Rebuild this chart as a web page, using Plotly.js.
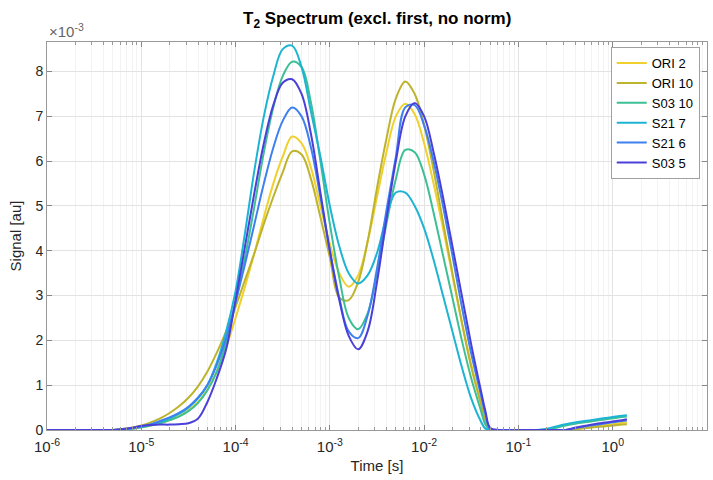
<!DOCTYPE html>
<html>
<head>
<meta charset="utf-8">
<script src="https://cdn.plot.ly/plotly-3.0.1.min.js"></script>
<style>html,body{margin:0;padding:0;background:#fff;}#chart{width:713px;height:480px;}</style>
</head>
<body>
<div id="chart"></div>
<script>
// log10 of time [s]
const log10T = [-6,-5.5,-5.3,-5.2,-5.1,-5.0,-4.9,-4.8,-4.7,-4.6,-4.5,-4.4,-4.3,-4.2,-4.1,-4.0,-3.9,-3.8,-3.7,-3.6,-3.5,-3.4,-3.3,-3.2,-3.1,-3.0,-2.9,-2.8,-2.7,-2.6,-2.5,-2.4,-2.3,-2.2,-2.1,-2.0,-1.9,-1.8,-1.7,-1.6,-1.5,-1.4,-1.35,-1.3,-1.2,-1.0,-0.8,-0.7,-0.6,-0.5,-0.4,-0.3,-0.2,-0.1,0.0,0.1,0.15];

// signal values in units of 1e-3
const ori2  = [0,0,0,0.01,0.03,0.06,0.1,0.15,0.22,0.31,0.44,0.62,0.9,1.3,1.85,2.5,3.2,3.95,4.75,5.5,6.1,6.55,6.4,5.85,5.0,4.15,3.5,3.2,3.45,4.2,5.2,6.2,7.0,7.28,7.05,6.4,5.5,4.5,3.45,2.4,1.45,0.62,0.22,0,0,0,0,0,0,0,0.02,0.05,0.08,0.11,0.13,0.16,0.17];
const ori10 = [0,0,0,0.02,0.05,0.1,0.17,0.26,0.38,0.53,0.72,0.97,1.3,1.72,2.2,2.75,3.35,3.95,4.6,5.2,5.75,6.22,6.15,5.6,4.75,3.85,2.95,2.9,3.3,4.2,5.4,6.5,7.4,7.78,7.5,6.8,5.8,4.65,3.5,2.4,1.4,0.6,0.2,0,0,0,0,0,0,0,0.02,0.04,0.06,0.08,0.1,0.12,0.13];
const s0310 = [0,0,0,0.01,0.03,0.06,0.1,0.15,0.22,0.3,0.42,0.6,0.88,1.3,1.95,2.85,3.85,5.0,6.2,7.2,7.9,8.22,8.1,7.3,6.0,4.6,3.4,2.5,2.25,2.6,3.5,4.6,5.6,6.25,6.2,5.7,4.85,3.9,2.95,2.0,1.15,0.45,0.12,0,0,0,0,0,0.05,0.1,0.14,0.17,0.2,0.23,0.26,0.29,0.30];
const s217  = [0,0,0,0.01,0.03,0.07,0.12,0.18,0.26,0.36,0.5,0.7,1.0,1.5,2.2,3.1,4.4,5.8,7.0,7.9,8.5,8.58,8.1,7.1,6.1,5.0,4.1,3.5,3.27,3.45,3.95,4.75,5.3,5.3,5.0,4.5,3.8,3.0,2.2,1.4,0.7,0.2,0.03,0,0,0,0,0.03,0.08,0.13,0.17,0.2,0.23,0.26,0.29,0.32,0.33];
const s216  = [0,0,0,0.01,0.04,0.08,0.13,0.2,0.28,0.38,0.52,0.72,1.0,1.45,2.05,2.85,3.7,4.6,5.5,6.3,6.9,7.2,7.0,6.3,5.2,4.0,2.95,2.2,2.05,2.55,3.6,4.9,6.1,7.2,7.25,6.8,6.0,5.0,3.9,2.75,1.7,0.8,0.35,0.02,0,0,0,0,0,0,0.04,0.08,0.11,0.14,0.17,0.2,0.21];
const s035  = [0,0,0,0.02,0.05,0.09,0.11,0.12,0.12,0.13,0.15,0.25,0.62,1.15,1.8,2.9,4.1,5.3,6.4,7.25,7.75,7.83,7.5,6.6,5.3,4.0,2.9,2.1,1.8,2.2,3.3,4.7,6.0,7.0,7.3,7.0,6.2,5.2,4.1,3.0,1.9,0.9,0.42,0.05,0,0,0,0,0,0,0.05,0.09,0.13,0.16,0.19,0.22,0.24];

const seriesNames = ['ORI 2','ORI 10','S03 10','S21 7','S21 6','S03 5'];
const seriesData = [ori2, ori10, s0310, s217, s216, s035];
const seriesColors = ['#EFD02C','#BDB32D','#3DBF95','#1DB4D4','#3E80EE','#4A3FD8'];
const xTickVals = [1e-6,1e-5,1e-4,1e-3,1e-2,1e-1,1,10];
const xTickText = ['10<sup>-6</sup>','10<sup>-5</sup>','10<sup>-4</sup>','10<sup>-3</sup>','10<sup>-2</sup>','10<sup>-1</sup>','10<sup>0</sup>','10<sup>1</sup>'];
const yTickVals = [0,1,2,3,4,5,6,7,8];

const tSec = log10T.map(v => Math.pow(10, v));
const traces = seriesNames.map((n, i) => ({
  x: tSec, y: seriesData[i], name: n, type: 'scatter', mode: 'lines',
  line: {color: seriesColors[i], width: 2, shape: 'spline', smoothing: 1}
}));

const fontFam = '"Liberation Sans", Arial, Helvetica, sans-serif';
const layout = {
  width: 713, height: 480,
  margin: {l: 47, r: 6, t: 42, b: 50},
  paper_bgcolor: '#ffffff', plot_bgcolor: '#ffffff',
  font: {family: fontFam, size: 13, color: '#262626'},
  title: {text: '<b>T<sub>2</sub> Spectrum (excl. first, no norm)</b>', x: 0.529, xref: 'container', y: 0.962, yref: 'container', xanchor: 'center', yanchor: 'middle', font: {family: fontFam, size: 17, color: '#000'}},
  xaxis: {
    type: 'log', range: [-6, 1], tickvals: xTickVals, ticktext: xTickText,
    showgrid: true, gridcolor: '#e3e3e3', gridwidth: 1,
    ticks: 'inside', ticklen: 5, tickcolor: '#888', ticklabelstandoff: 3,
    showline: true, linecolor: '#999', linewidth: 1, mirror: 'ticks',
    zeroline: false,
    minor: {dtick: 'D1', ticks: 'inside', ticklen: 3, tickcolor: '#999', showgrid: true, gridcolor: '#f3f3f3', gridwidth: 1},
    title: {text: 'Time [s]', standoff: 6, font: {size: 15, color: '#262626'}},
    tickfont: {size: 15, color: '#262626'}
  },
  yaxis: {
    range: [0, 8.66], tickvals: yTickVals,
    showgrid: true, gridcolor: '#e3e3e3', gridwidth: 1,
    ticks: 'inside', ticklen: 5, tickcolor: '#888',
    showline: true, linecolor: '#999', linewidth: 1, mirror: 'ticks',
    zeroline: false,
    title: {text: 'Signal [au]', standoff: 10, font: {size: 15, color: '#262626'}},
    tickfont: {size: 14, color: '#262626'}
  },
  legend: {
    x: 0.989, y: 0.987, xanchor: 'right', yanchor: 'top',
    bgcolor: '#ffffff', bordercolor: '#a0a0a0', borderwidth: 1,
    font: {size: 13, color: '#000'}, tracegroupgap: 0, itemwidth: 30
  },
  annotations: [{
    text: '×10<sup>-3</sup>', xref: 'paper', yref: 'paper', x: 0, y: 1,
    xanchor: 'left', yanchor: 'bottom', showarrow: false, yshift: 0,
    font: {size: 15, color: '#666'}
  }],
  showlegend: true
};

Plotly.newPlot('chart', traces, layout, {staticPlot: true, displayModeBar: false});
</script>
</body>
</html>
